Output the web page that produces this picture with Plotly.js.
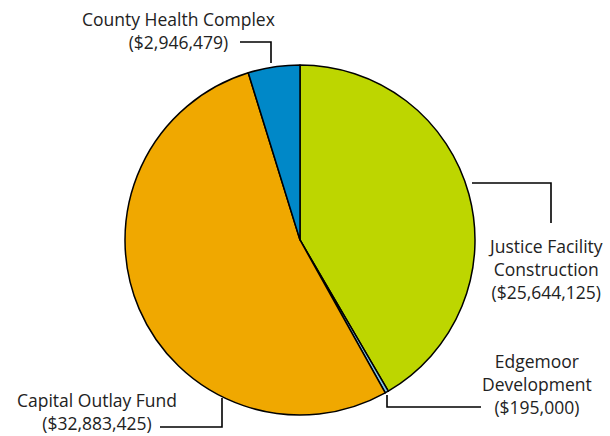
<!DOCTYPE html>
<html><head><meta charset="utf-8">
<script src="https://cdn.plot.ly/plotly-3.0.1.min.js"></script>
<style>html,body{margin:0;padding:0;background:#fff}#chart{width:610px;height:436px}</style>
</head><body><div id="chart"></div>
<script>
const labels = ["Justice Facility Construction", "Edgemoor Development", "Capital Outlay Fund", "County Health Complex"];
const values = [25644125, 195000, 32883425, 2946479];
const colors = ["#bdd600", "#7fc4e8", "#f0a800", "#0088c8"];

const W = 610, H = 436;
const px = x => x / W, py = y => 1 - y / H;
const fmt = v => "($" + v.toLocaleString("en-US") + ")";
const font = {family: "'Open Sans', sans-serif", size: 17.5, color: "#222"};

function ann(text, x, y, yanchor) {
  return {text: text, x: px(x), y: py(y), xref: "paper", yref: "paper", showarrow: false,
          xanchor: "center", yanchor: yanchor || "middle", font: font, align: "center", borderpad: 0};
}
function path(pts) {
  return {type: "path", xref: "paper", yref: "paper",
          path: "M" + pts.map(p => px(p[0]) + "," + py(p[1])).join(" L"),
          line: {color: "#000", width: 1.6}};
}

const data = [{
  type: "pie", labels: labels, values: values, sort: false, direction: "clockwise", rotation: 0,
  marker: {colors: colors, line: {color: "#000", width: 1.5}},
  textinfo: "none", hoverinfo: "label+value",
  domain: {x: [px(125), px(475)], y: [py(415), py(65)]}
}];

const layout = {
  width: W, height: H, margin: {l: 0, r: 0, t: 0, b: 0}, showlegend: false,
  paper_bgcolor: "#fff",
  annotations: [
    ann(labels[3] + "<br>" + fmt(values[3]), 178, 31),
    ann("Justice Facility<br>Construction<br>" + fmt(values[0]), 545, 269),
    ann("Edgemoor<br>Development<br>" + fmt(values[1]), 537, 384),
    ann(labels[2] + "<br>" + fmt(values[2]), 97, 436, "bottom")
  ],
  shapes: [
    path([[240, 42], [271, 42], [271, 63]]),
    path([[472, 183], [551, 183], [551, 223]]),
    path([[387, 395], [387, 407], [481, 407]]),
    path([[160, 427], [222, 427], [222, 398]])
  ]
};
Plotly.newPlot("chart", data, layout, {displayModeBar: false, staticPlot: true});
</script></body></html>
